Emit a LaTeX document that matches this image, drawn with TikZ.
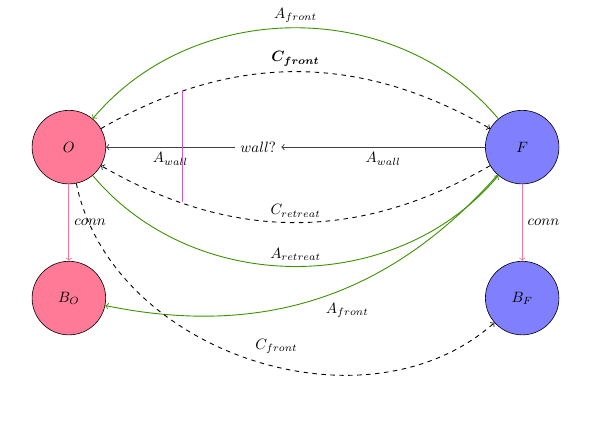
\documentclass[tikz,border=0pt]{standalone}
\usepackage{amsmath, amssymb}
\usepackage{tikz}

\definecolor{opink}{RGB}{255,122,150}
\definecolor{agreen}{RGB}{60,145,0}
\definecolor{cpink}{RGB}{245,120,155}
\definecolor{wviolet}{RGB}{205,90,205}

\begin{document}
\begin{tikzpicture}
                [semithick,
                agent/.style={circle,draw,thin,minimum size=1.73cm,inner sep=0pt},
                oagent/.style={agent,fill=opink},
                fagent/.style={agent,fill=blue!50},
                action/.style={->,draw=agreen},
                comm/.style={->,dashed},
                wallarrow/.style={->,draw=black!75},
                conn/.style={->,draw=cpink}]
                \useasboundingbox (-1.62,-6.47) rectangle (12.49,3.46);
                \node[oagent] (O) at (0,0) {$O$};
                \node[fagent] (F) at (10.66,0) {$F$};
                \node[oagent] (BO) at (0,-3.55) {$B_O$};
                \node[fagent] (BF) at (10.66,-3.55) {$B_F$};
                \node (wall) at (4.45,0) {$wall?$};
                \coordinate (wtop) at (2.68,1.34);
                \coordinate (wbot) at (2.68,-1.29);
                % upper arcs
                \draw[action] (F) to[bend right=50] node[above] {$A_{front}$} (O);
                \draw[comm] (O) to[bend left=30] node[above] {$\boldsymbol{C_{front}}$} (F);
                \draw[wallarrow] (F) -- node[below] {$A_{wall}$} (wall);
                \draw[wallarrow] (wall) -- node[below] {$A_{wall}$} (O);
                \draw[comm] (F) to[bend left=30] node[above] {$C_{retreat}$} (O);
                \draw[action] (O) to[bend right=50] node[above] {$A_{retreat}$} (F);
                % lower arcs
                \draw[action] (F) to[bend left=30] node[below right] {$A_{front}$} (BO);
                \draw[comm] (O) to[bend right=60] node[above right] {$C_{front}$} (BF);
                \draw[conn] (O) -- node[right] {$conn$} (BO);
                \draw[conn] (F) -- node[right] {$conn$} (BF);
                \draw[draw=wviolet] (wtop) -- (wbot);
\end{tikzpicture}
\end{document}
